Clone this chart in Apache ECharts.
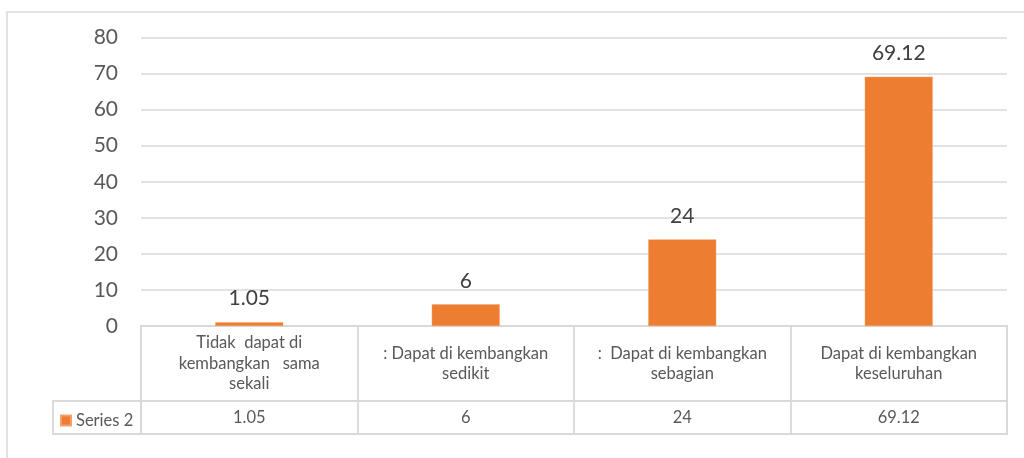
<!DOCTYPE html>
<html>
<head>
<meta charset="utf-8">
<script src="https://cdn.jsdelivr.net/npm/echarts@6/dist/echarts.min.js"></script>
<style>
html,body{margin:0;padding:0;background:#fff;}
#chart{width:1024px;height:458px;}
</style>
</head>
<body>
<div id="chart"></div>
<script>
var categories = [
  'Tidak  dapat di\nkembangkan   sama\nsekali',
  ': Dapat di kembangkan\nsedikit',
  ':  Dapat di kembangkan\nsebagian',
  'Dapat di kembangkan\nkeseluruhan'
];
var seriesName = 'Series 2';
var seriesValues = [1.05, 6, 24, 69.12];
var valueLabels = ['1.05', '6', '24', '69.12'];
var yTicks = [0, 10, 20, 30, 40, 50, 60, 70, 80];

var FONT = 'Lato, "Open Sans", sans-serif';
var LINE = '#d9d9d9';
var chart = echarts.init(document.getElementById('chart'), null, {renderer: 'canvas'});
chart.setOption({
  animation: false,
  backgroundColor: '#ffffff',
  textStyle: {fontFamily: FONT},
  graphic: [{
    type: 'rect', silent: true, z: -10,
    shape: {x: 7, y: 12, width: 1030, height: 460},
    style: {fill: 'none', stroke: LINE, lineWidth: 1.5}
  }],
  legend: {
    left: 55, top: 407,
    icon: 'rect', itemWidth: 10, itemHeight: 10, itemGap: 5,
    textStyle: {fontSize: 16.5, color: '#595959', fontFamily: FONT},
    data: [seriesName]
  },
  grid: [
    {left: 141, right: 17, top: 37.5, bottom: 132},
    {left: 141, right: 17, top: 326, height: 75, show: true, borderColor: LINE, borderWidth: 1.8},
    {left: 141, right: 17, top: 401, height: 33, show: true, borderColor: LINE, borderWidth: 1.8},
    {left: 53, width: 88, top: 401, height: 33, show: true, borderColor: LINE, borderWidth: 1.8}
  ],
  xAxis: [
    {gridIndex: 0, type: 'category', data: categories, show: false},
    {gridIndex: 1, type: 'category', data: categories, position: 'top',
      axisLine: {show: false}, axisTick: {show: false},
      splitLine: {show: true, lineStyle: {color: LINE, width: 1.8}},
      axisLabel: {inside: true, margin: 37.5, verticalAlign: 'middle', interval: 0,
        fontSize: 16.5, lineHeight: 20.5, color: '#595959', fontFamily: FONT}},
    {gridIndex: 2, type: 'category', data: valueLabels, position: 'top',
      axisLine: {show: false}, axisTick: {show: false},
      splitLine: {show: true, lineStyle: {color: LINE, width: 1.8}},
      axisLabel: {inside: true, margin: 16.5, verticalAlign: 'middle', interval: 0,
        fontSize: 16.5, color: '#595959', fontFamily: FONT}},
    {gridIndex: 3, type: 'category', data: [''], show: false}
  ],
  yAxis: [
    {gridIndex: 0, type: 'value', min: yTicks[0], max: yTicks[yTicks.length - 1], interval: 10,
      axisLine: {show: false}, axisTick: {show: false},
      splitLine: {show: true, lineStyle: {color: LINE, width: 1.5}},
      axisLabel: {margin: 23, fontSize: 21, color: '#595959', fontFamily: FONT}},
    {gridIndex: 1, type: 'value', show: false},
    {gridIndex: 2, type: 'value', show: false},
    {gridIndex: 3, type: 'value', show: false}
  ],
  series: [{
    name: seriesName,
    type: 'bar',
    xAxisIndex: 0, yAxisIndex: 0,
    data: seriesValues,
    barWidth: 68,
    itemStyle: {color: '#ED7D31', borderColor: '#F4A06A', borderWidth: 0.5},
    label: {show: true, position: 'top', distance: 13, fontSize: 21, color: '#404040', fontFamily: FONT,
      formatter: function (p) { return valueLabels[p.dataIndex]; }}
  }]
});
</script>
</body>
</html>
